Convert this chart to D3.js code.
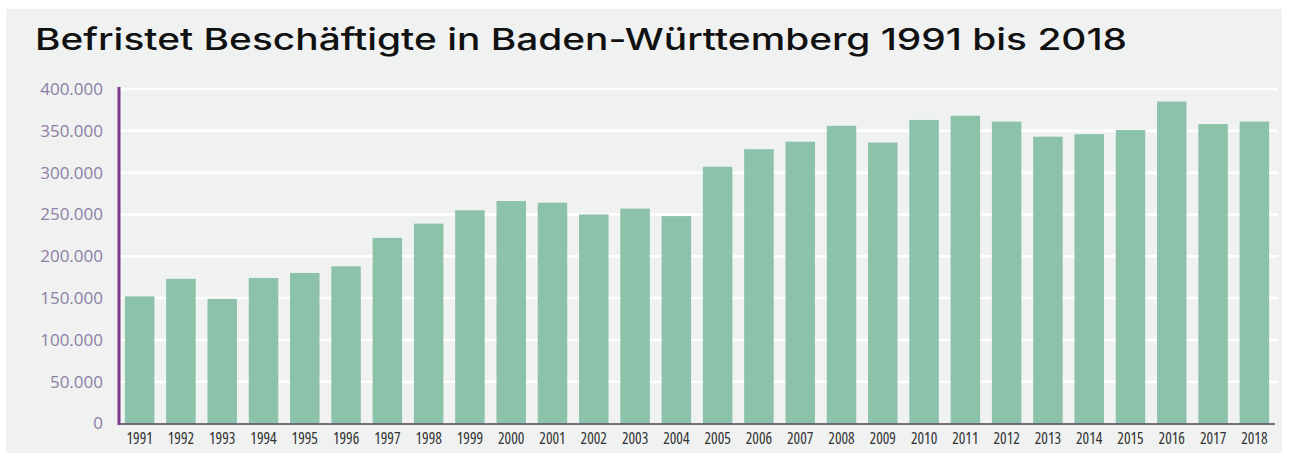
<!DOCTYPE html>
<html>
<head>
<meta charset="utf-8">
<script src="https://cdn.jsdelivr.net/npm/d3@7"></script>
<style>
  html, body { margin: 0; padding: 0; background: #ffffff; }
  svg { display: block; }
</style>
</head>
<body>
<svg id="chart" width="1289" height="455"></svg>
<script>
const years = ["1991","1992","1993","1994","1995","1996","1997","1998","1999","2000",
  "2001","2002","2003","2004","2005","2006","2007","2008","2009","2010",
  "2011","2012","2013","2014","2015","2016","2017","2018"];
const values = [152000,173000,149000,174000,180000,188000,222000,239000,255000,266000,
  264000,250000,257000,248000,307000,328000,337000,356000,336000,363000,
  368000,361000,343000,346000,351000,385000,358000,361000];
const yTicks = [0,50000,100000,150000,200000,250000,300000,350000,400000];
const title = "Befristet Beschäftigte in Baden-Württemberg 1991 bis 2018";

const svg = d3.select("#chart");
const mLeft = 119, mRight = 1275, mTop = 89, mBottom = 423.5;

// panel background
svg.append("rect").attr("x", 6).attr("y", 9).attr("width", 1276).attr("height", 444)
  .attr("fill", "#eff2f1");

// title
svg.append("text")
  .attr("x", 35).attr("y", 50)
  .attr("font-family", "Inter, 'DejaVu Sans', sans-serif")
  .attr("font-weight", 500)
  .attr("font-size", 30)
  .attr("fill", "#111")
  .attr("textLength", 1092)
  .attr("lengthAdjust", "spacingAndGlyphs")
  .text(title);

const x = d3.scaleBand().domain(years).range([mLeft, mRight])
  .paddingInner(0.286).paddingOuter(0.143);
const y = d3.scaleLinear().domain([0, 400000]).range([mBottom, mTop]);

// gridlines
svg.append("g").selectAll("line").data(yTicks.filter(d => d > 0)).join("line")
  .attr("x1", mLeft).attr("x2", 1278)
  .attr("y1", d => y(d)).attr("y2", d => y(d))
  .attr("stroke", "#ffffff").attr("stroke-width", 2.5);

// bars
svg.append("g").selectAll("rect").data(values).join("rect")
  .attr("x", (d, i) => x(years[i]))
  .attr("width", x.bandwidth())
  .attr("y", d => y(d))
  .attr("height", d => y(0) - y(d))
  .attr("fill", "#8cc2a9");

// y axis labels
const yAxis = d3.axisLeft(y).tickValues(yTicks)
  .tickFormat(d => d === 0 ? "0" : d3.format(",")(d).replace(/,/g, "."))
  .tickSize(0).tickPadding(16);
const gy = svg.append("g").attr("transform", `translate(${mLeft},0)`).call(yAxis);
gy.select(".domain").remove();
gy.selectAll("text")
  .attr("font-family", "'Open Sans', sans-serif")
  .attr("font-size", 17)
  .attr("fill", "#8d7ea5");

// x axis labels
const xAxis = d3.axisBottom(x).tickSize(0).tickPadding(9);
const gx = svg.append("g").attr("transform", `translate(0,${mBottom})`).call(xAxis);
gx.select(".domain").remove();
gx.selectAll("text")
  .attr("font-family", "'Open Sans', sans-serif")
  .attr("font-size", 15.5)
  .attr("fill", "#333")
  .style("font-stretch", "condensed");

// baseline
svg.append("line").attr("x1", mLeft).attr("x2", mRight)
  .attr("y1", mBottom + 0.5).attr("y2", mBottom + 0.5)
  .attr("stroke", "#4f4257").attr("stroke-width", 1.5);

// y axis line
svg.append("line").attr("x1", mLeft).attr("x2", mLeft)
  .attr("y1", 87).attr("y2", mBottom + 1.5)
  .attr("stroke", "#7a3b8e").attr("stroke-width", 3);
</script>
</body>
</html>
